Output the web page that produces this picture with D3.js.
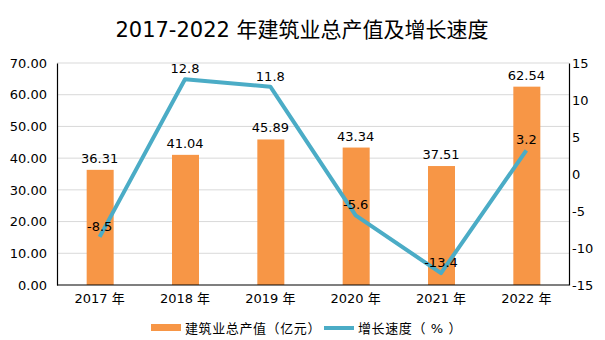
<!DOCTYPE html>
<html><head><meta charset="utf-8">
<script src="https://cdn.jsdelivr.net/npm/d3@7"></script>
<style>body{margin:0;background:#fff;}text{font-family:"DejaVu Sans","Noto Sans CJK SC",sans-serif;}</style>
</head><body><svg id="c" width="605" height="340"></svg>
<script>
const categories = ["2017 年","2018 年","2019 年","2020 年","2021 年","2022 年"];
const outputValues = [36.31, 41.04, 45.89, 43.34, 37.51, 62.54];
const growthValues = [-8.5, 12.8, 11.8, -5.6, -13.4, 3.2];
const leftTicks = [0,10,20,30,40,50,60,70];
const rightTicks = [-15,-10,-5,0,5,10,15];
const seriesNames = ["建筑业总产值（亿元）","增长速度（ % ）"];
const title = "2017-2022 年建筑业总产值及增长速度";

const svg = d3.select("#c");
const m = {l:57, r:569, t:63, b:285};
const x = d3.scaleBand().domain(categories).range([m.l, m.r]);
const yL = d3.scaleLinear().domain([0,70]).range([m.b, m.t]);
const yR = d3.scaleLinear().domain([-15,15]).range([m.b, m.t]);
const barColor = "#f79646", lineColor = "#4bacc6";

svg.append("text").attr("x",302).attr("y",37).attr("text-anchor","middle")
  .attr("font-size",21).attr("fill","#000").text(title);

// gridlines
svg.append("g").selectAll("line").data(leftTicks.filter(d=>d>0)).join("line")
  .attr("x1",m.l).attr("x2",m.r).attr("y1",d=>yL(d)).attr("y2",d=>yL(d))
  .attr("stroke","#d9d9d9").attr("stroke-width",1);

// bars
const bw = 27;
svg.append("g").selectAll("rect").data(outputValues).join("rect")
  .attr("x",(d,i)=>x(categories[i])+x.bandwidth()/2-bw/2+0.5)
  .attr("width",bw).attr("y",d=>yL(d)).attr("height",d=>m.b-yL(d))
  .attr("fill",barColor);
svg.append("g").selectAll("text").data(outputValues).join("text")
  .attr("x",(d,i)=>x(categories[i])+x.bandwidth()/2)
  .attr("y",d=>yL(d)-7).attr("text-anchor","middle").attr("font-size",13)
  .attr("fill","#000").text(d=>d.toFixed(2));

// axes
const axL = svg.append("g").attr("transform",`translate(${m.l},0)`)
  .call(d3.axisLeft(yL).tickValues(leftTicks).tickFormat(d=>d.toFixed(2)).tickSize(0).tickPadding(10));
const axR = svg.append("g").attr("transform",`translate(${m.r},0)`)
  .call(d3.axisRight(yR).tickValues(rightTicks).tickFormat(d=>String(d)).tickSize(0).tickPadding(3));
const axB = svg.append("g").attr("transform",`translate(0,${m.b})`)
  .call(d3.axisBottom(x).tickSize(0).tickPadding(6));
[axL,axR,axB].forEach(a=>{
  a.select(".domain").attr("stroke","#000").attr("stroke-width",1.2);
  a.selectAll("text").attr("font-size",13).attr("fill","#000")
   .attr("font-family",'"DejaVu Sans","Noto Sans CJK SC",sans-serif');
});
axB.select(".domain").attr("d",`M${m.l},0H${m.r}`);
axB.selectAll("text").attr("dy","0.9em");

// line
const line = d3.line().x((d,i)=>x(categories[i])+x.bandwidth()/2).y(d=>yR(d));
svg.append("path").datum(growthValues).attr("d",line).attr("fill","none")
  .attr("stroke",lineColor).attr("stroke-width",4).attr("stroke-linejoin","round");
svg.append("g").selectAll("text").data(growthValues).join("text")
  .attr("x",(d,i)=>x(categories[i])+x.bandwidth()/2)
  .attr("y",d=>yR(d)-6)
  .attr("text-anchor","middle").attr("font-size",13).attr("fill","#000")
  .text(d=>d);

// legend
const lg = svg.append("g");
lg.append("rect").attr("x",151).attr("y",324).attr("width",30).attr("height",7).attr("fill",barColor);
lg.append("text").attr("x",185).attr("y",333).attr("font-size",13).attr("letter-spacing",0.6).text(seriesNames[0]);
lg.append("rect").attr("x",324).attr("y",326).attr("width",30).attr("height",4).attr("fill",lineColor);
lg.append("text").attr("x",358).attr("y",333).attr("font-size",13).attr("letter-spacing",0.6).text(seriesNames[1]);
</script></body></html>
